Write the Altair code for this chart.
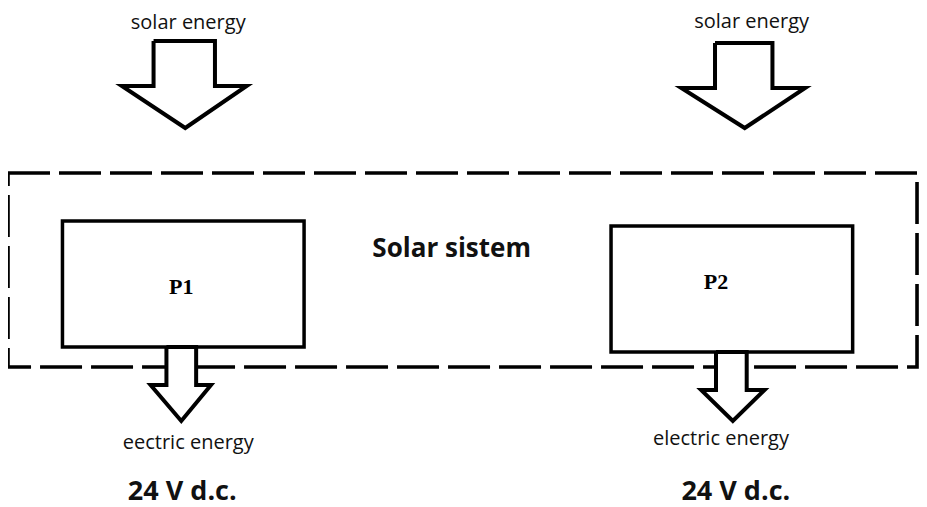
import altair as alt
import pandas as pd

# ---- diagram geometry (pixel coordinates) ----
# big "solar energy" arrows: polygon outlines
big_left_x = [155, 217, 217, 249, 187, 123, 155, 155]
big_left_y = [41, 41, 86, 86, 128, 86, 86, 41]
big_right_x = [722, 780, 780, 813, 752, 688, 722, 722]
big_right_y = [43, 43, 88, 88, 128, 88, 88, 43]
# small "electric energy" arrows
small_left_x = [168, 198, 198, 213, 183, 152, 168, 168]
small_left_y = [347, 347, 385, 385, 421, 385, 385, 347]
small_right_x = [723, 754, 754, 772, 740, 708, 723, 723]
small_right_y = [352, 352, 390, 390, 421, 390, 390, 352]
# dashed system boundary
sys_x = [8, 926, 926, 8, 8]
sys_y = [173, 173, 367, 367, 173]

# panel boxes
box_names = ["P1", "P2"]
box_x0 = [63, 617]
box_x1 = [307, 861]
box_y0 = [221, 226]
box_y1 = [347, 352]
box_label_x = [183, 723]
box_label_y = [294, 289]          # baselines

# texts (y = baseline)
top_labels = ["solar energy", "solar energy"]
top_x = [190, 759]
top_y = [29, 28]
out_labels = ["eectric energy", "electric energy"]
out_x = [190, 728]
out_y = [449, 445]
volt_labels = ["24 V d.c.", "24 V d.c."]
volt_x = [184, 743]
volt_y = [500, 500]
title_label = ["Solar sistem"]
title_x = [456]
title_y = [257]

# plot area starts inside the 8px page margin
W, H = 911, 499
xs = alt.Scale(domain=[8, 928], range=[0, W], nice=False, zero=False)
ys = alt.Scale(domain=[8, 8 + H], range=[0, H], nice=False, zero=False)


def poly(name, xv, yv):
    return pd.DataFrame({"shape": name, "order": range(len(xv)), "x": xv, "y": yv})


arrows = pd.concat([
    poly("bl", big_left_x, big_left_y),
    poly("br", big_right_x, big_right_y),
    poly("sl", small_left_x, small_left_y),
    poly("sr", small_right_x, small_right_y),
])
sysdf = poly("sys", sys_x, sys_y)

boxes = pd.DataFrame({"name": box_names, "x0": box_x0, "x1": box_x1, "y0": box_y0, "y1": box_y1,
                      "lx": box_label_x, "ly": box_label_y})

# white shaft interior (hides the dashed line behind the small arrows)
shafts = pd.DataFrame({
    "x0": [small_left_x[0], small_right_x[0]],
    "x1": [small_left_x[1], small_right_x[1]],
    "y0": [small_left_y[0], small_right_y[0]],
    "y1": [small_left_y[2], small_right_y[2]],
})

X = lambda f: alt.X(f, type="quantitative", scale=xs, axis=None)
Y = lambda f: alt.Y(f, type="quantitative", scale=ys, axis=None)

dashed = alt.Chart(sysdf).mark_line(
    color="black", strokeWidth=3.6, strokeDash=[42, 9], strokeJoin="miter", clip=False
).encode(x=X("x"), y=Y("y"), order="order:Q", detail="shape:N")

box_rects = alt.Chart(boxes).mark_rect(
    fill="white", stroke="black", strokeWidth=3.5
).encode(x=X("x0"), x2="x1", y=Y("y0"), y2="y1")

cover = alt.Chart(shafts).mark_rect(fill="white", strokeWidth=0).encode(
    x=X("x0"), x2="x1", y=Y("y0"), y2="y1")

arrow_lines = alt.Chart(arrows).mark_line(
    color="black", strokeWidth=4, strokeJoin="miter", strokeMiterLimit=10, clip=False
).encode(x=X("x"), y=Y("y"), order="order:Q", detail="shape:N")

box_text = alt.Chart(boxes).mark_text(
    font="Liberation Serif", fontWeight="bold", fontSize=22, color="black",
    align="center", baseline="alphabetic"
).encode(x=X("lx"), y=Y("ly"), text="name:N")


def texts(labels, xv, yv, size, weight="normal", color="#111111"):
    df = pd.DataFrame({"t": labels, "x": xv, "y": yv})
    return alt.Chart(df).mark_text(
        font="Open Sans", fontSize=size, fontWeight=weight, color=color,
        align="center", baseline="alphabetic", clip=False
    ).encode(x=X("x"), y=Y("y"), text="t:N")


chart = alt.layer(
    dashed,
    box_rects,
    cover,
    arrow_lines,
    box_text,
    texts(top_labels, top_x, top_y, 20),
    texts(out_labels, out_x, out_y, 20),
    texts(volt_labels, volt_x, volt_y, 27, "bold"),
    texts(title_label, title_x, title_y, 26, "bold"),
).properties(
    width=W, height=H, padding=0, autosize=alt.AutoSizeParams(type="none"),
    background="white"
).configure_view(strokeWidth=0)

chart.save("out.html", embed_options={"renderer": "svg", "actions": False})
